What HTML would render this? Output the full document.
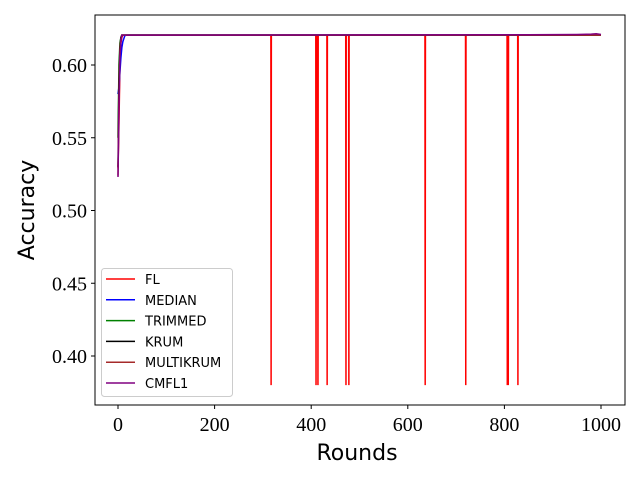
<!DOCTYPE html>
<html><head><meta charset="utf-8"><style>
body{margin:0;background:#fff}
svg{display:block}
.tick{font-family:"Liberation Serif",serif;font-size:20px;fill:#000}
.title{font-family:"DejaVu Sans","Liberation Sans",sans-serif;font-size:22px;fill:#000}
.leg{font-family:"DejaVu Sans","Liberation Sans",sans-serif;font-size:13px;fill:#000}
</style></head><body>
<svg id="chart" width="640" height="480"></svg>
<script>
const xTicks=[0,200,400,600,800,1000];
const yTicks=[0.40,0.45,0.50,0.55,0.60];
const seriesNames=["FL","MEDIAN","TRIMMED","KRUM","MULTIKRUM","CMFL1"];
const seriesColors=["#ff0000","#0000ff","#008000","#000000","#a52a2a","#800080"];
const baseAcc=0.6205;
const earlyFL=[0.529,0.56,0.60,0.615,0.619,0.6205];
const earlyMEDIAN=[0.58,0.585,0.595,0.605,0.612,0.616,0.618,0.62,0.6205];
const earlyTRIMMED=[0.55,0.60,0.615,0.619,0.6205];
const earlyKRUM=[0.53,0.59,0.612,0.619,0.6205];
const earlyMULTIKRUM=[0.524,0.58,0.61,0.618,0.6205];
const earlyCMFL1=[0.523,0.57,0.605,0.616,0.6205];
const flDipRounds=[317,410,414,433,472,478,636,720,806,808,828];
const flDipValue=0.38;
const lateRounds=[850,900,950,980,990,1000];
const lateCMFL1=[0.6208,0.6209,0.6210,0.6212,0.6215,0.6210];
const earlies=[earlyFL,earlyMEDIAN,earlyTRIMMED,earlyKRUM,earlyMULTIKRUM,earlyCMFL1];

const L=95,R=625,T=15,B=405;
const X=v=>118+(v)*0.483;
const Y=v=>65+(0.60-v)*1455;
const NS="http://www.w3.org/2000/svg";
const svg=document.getElementById('chart');
function mk(tag,attrs,parent){const e=document.createElementNS(NS,tag);for(const k in attrs)e.setAttribute(k,attrs[k]);(parent||svg).appendChild(e);return e;}

const clip=mk('clipPath',{id:'pc'});mk('rect',{x:L,y:T,width:R-L,height:B-T},clip);
const g=mk('g',{'clip-path':'url(#pc)'});



function seriesPts(i){
  const e=earlies[i];let pts=[];
  e.forEach((v,k)=>pts.push([k*2,v]));
  if(i===0){
    flDipRounds.forEach(r=>{pts.push([r-0.5,baseAcc],[r,flDipValue],[r+0.5,baseAcc]);});
  }
  if(i===5){lateRounds.forEach((r,k)=>pts.push([r,lateCMFL1[k]]));}
  else pts.push([1000,baseAcc]);
  pts.sort((a,b)=>a[0]-b[0]);
  return pts;
}
// draw FL last-ish order like matplotlib: draw in order, FL first
for(let i=0;i<6;i++){
  const p=mk('polyline',{points:seriesPts(i).map(q=>X(q[0]).toFixed(2)+','+Y(q[1]).toFixed(2)).join(' '),fill:'none',stroke:seriesColors[i],'stroke-width':1.5},g);
  
  
}
mk('rect',{x:L,y:T,width:R-L,height:B-T,fill:'none',stroke:'#000','stroke-width':1});

xTicks.forEach(t=>{
  mk('line',{x1:X(t),x2:X(t),y1:B,y2:B+4,stroke:'#000'});
  const tx=mk('text',{x:X(t),y:B+26,'text-anchor':'middle',class:'tick'});tx.textContent=t;
  
  
});
yTicks.forEach(t=>{
  mk('line',{x1:L-4,x2:L,y1:Y(t),y2:Y(t),stroke:'#000'});
  const tx=mk('text',{x:L-8,y:Y(t)+7,'text-anchor':'end',class:'tick'});tx.textContent=t.toFixed(2);
  
  
});
const xt=mk('text',{x:357,y:460,'text-anchor':'middle',class:'title'});xt.textContent='Rounds';


const yt=mk('text',{x:0,y:0,'text-anchor':'middle',class:'title',transform:'translate(34,210) rotate(-90)'});yt.textContent='Accuracy';



const lg=mk('g',{});


mk('rect',{x:101.5,y:268.5,width:131,height:128,rx:3,fill:'#fff','fill-opacity':0.8,stroke:'#ccc'},lg);
seriesNames.forEach((n,i)=>{
  const y=279+i*20.8;
  mk('line',{x1:106,x2:135,y1:y,y2:y,stroke:seriesColors[i],'stroke-width':1.5},lg);
  const t=mk('text',{x:145,y:y+5,class:'leg'},lg);t.textContent=n;
  
  
});
</script>
</body></html>
